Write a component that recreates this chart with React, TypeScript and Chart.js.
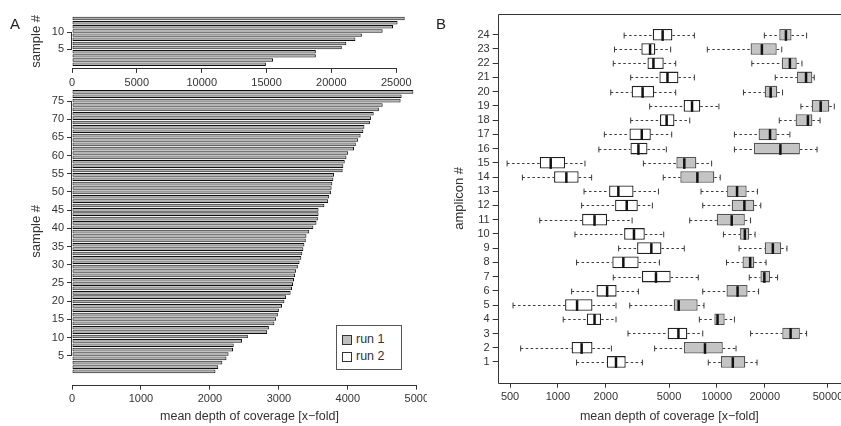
import React, { useEffect, useRef } from 'react';
import { Chart, registerables } from 'chart.js';

Chart.register(...registerables);

const FONT = '"Liberation Sans", Arial, Helvetica, sans-serif';
const INK = '#333333';

// Panel A (upper): run 1, mean depth per sample, sample 1 first
const run1Depth = [14950, 15500, 18800, 18800, 20800, 21150, 21850, 22350, 23950, 24750, 25100, 25650];
const run1SampleTicks = [5, 10];
const run1DepthTicks = [0, 5000, 10000, 15000, 20000, 25000];

// Panel A (lower): run 2, mean depth per sample, sample 1 first
const run2Depth = [
  2080, 2120, 2180, 2240, 2270, 2335, 2345, 2465, 2550,
  2830, 2855, 2935, 2960, 2985, 3000, 3045, 3080, 3105, 3170, 3190, 3205, 3220, 3235, 3250, 3275, 3300, 3325, 3340,
  3355, 3370, 3390, 3400, 3440, 3500, 3545, 3565, 3575, 3575, 3660, 3715, 3730, 3755, 3765, 3775, 3790, 3800,
  3925, 3935, 3955, 3980, 4005, 4090, 4115, 4150, 4185, 4225, 4240, 4320, 4335, 4375, 4450, 4505, 4765, 4780, 4950,
];
const run2SampleTicks = [5, 10, 15, 20, 25, 30, 35, 40, 45, 50, 55, 60, 65, 70, 75];
const run2DepthTicks = [0, 1000, 2000, 3000, 4000, 5000];

// Panel B: per-amplicon depth distribution (amplicon 1 first)
const amplicons = [1, 2, 3, 4, 5, 6, 7, 8, 9, 10, 11, 12, 13, 14, 15, 16, 17, 18, 19, 20, 21, 22, 23, 24];
const depthTicksB = [500, 1000, 2000, 5000, 10000, 20000, 50000];

const run1Low = [8830, 4060, 16300, 7760, 2830, 8150, 16000, 11500, 13800, 11000, 6750, 8150, 7950, 4600, 3450, 12900, 12900, 24700, 33800, 14700, 23300, 16600, 8710, 19900];
const run1Q1 = [10600, 6210, 25800, 9640, 5350, 11500, 18800, 14500, 20000, 14000, 9980, 12400, 11600, 5890, 5560, 17100, 18300, 31300, 39500, 20000, 31900, 25600, 16300, 24700];
const run1Med = [12600, 8420, 29100, 10100, 5750, 13500, 19900, 16200, 22500, 15000, 12400, 14900, 13400, 7540, 6240, 25100, 21600, 37400, 45000, 21800, 36400, 28800, 19200, 27200];
const run1Q3 = [15100, 10900, 33300, 11200, 7570, 15600, 21600, 17200, 25400, 16000, 15000, 17200, 15400, 9640, 7430, 33300, 23800, 39900, 51000, 24000, 39900, 31800, 23800, 29500];
const run1High = [17900, 13200, 36700, 12900, 8300, 18300, 24100, 20400, 27600, 17400, 16300, 18900, 18000, 10500, 9270, 42700, 28800, 44600, 54800, 25900, 41000, 34300, 25600, 36700];

const run2Low = [1310, 583, 2760, 1080, 522, 1220, 2230, 1310, 2410, 1280, 769, 1410, 1460, 598, 479, 1810, 1960, 2870, 3780, 2150, 2870, 2230, 2270, 2610];
const run2Q1 = [2030, 1220, 4900, 1520, 1110, 1750, 3380, 2200, 3150, 2610, 1420, 2290, 2100, 946, 769, 2860, 2820, 4390, 6180, 2910, 4350, 3660, 3350, 3950];
const run2Med = [2320, 1410, 5730, 1700, 1320, 2040, 4140, 2580, 3870, 3010, 1700, 2710, 2400, 1130, 901, 3210, 3370, 4830, 6980, 3410, 4890, 3990, 3800, 4560];
const run2Q3 = [2670, 1650, 6520, 1870, 1650, 2340, 5120, 3220, 4480, 3520, 2040, 3180, 2990, 1350, 1110, 3660, 3840, 5410, 7870, 4030, 5730, 4630, 4100, 5250];
const run2High = [3400, 2170, 8150, 2320, 2320, 3210, 7640, 4350, 6240, 4630, 2930, 3930, 4290, 1630, 1480, 4810, 5200, 6750, 10300, 5510, 7220, 5510, 5120, 7220];

// R barplot style bar positions (space = 0.2, width = 1)
const barPos = (i: number) => 0.7 + 1.2 * i;

const tickFont = { family: FONT, size: 11 };

// axis lines that run only from first to last tick, like R's axis()
const rAxisLines = {
  id: 'rAxisLines',
  afterDraw(chart: any) {
    const { ctx } = chart;
    ctx.save();
    ctx.strokeStyle = INK;
    ctx.lineWidth = 1;
    ['x', 'y'].forEach((id) => {
      const s = chart.scales[id];
      if (!s || !s.ticks.length) return;
      const a = s.getPixelForValue(s.ticks[0].value);
      const b = s.getPixelForValue(s.ticks[s.ticks.length - 1].value);
      ctx.beginPath();
      if (id === 'x') {
        ctx.moveTo(a, Math.round(s.top) + 0.5);
        ctx.lineTo(b, Math.round(s.top) + 0.5);
      } else {
        ctx.moveTo(Math.round(s.right) - 0.5, a);
        ctx.lineTo(Math.round(s.right) - 0.5, b);
      }
      ctx.stroke();
    });
    ctx.restore();
  },
};

const frame = {
  id: 'frame',
  afterDraw(chart: any) {
    const { ctx, chartArea: a } = chart;
    ctx.save();
    ctx.strokeStyle = INK;
    ctx.lineWidth = 1;
    ctx.beginPath();
    ctx.moveTo(a.right + 2, Math.round(a.top) + 0.5);
    ctx.lineTo(Math.round(a.left) + 0.5, Math.round(a.top) + 0.5);
    ctx.lineTo(Math.round(a.left) + 0.5, Math.round(a.bottom) + 0.5);
    ctx.lineTo(a.right + 2, Math.round(a.bottom) + 0.5);
    ctx.stroke();
    ctx.restore();
  },
};

// whiskers, staples and medians drawn on top of the floating-bar boxes
const whiskers = {
  id: 'whiskers',
  afterDatasetsDraw(chart: any) {
    const { ctx, scales: { x, y } } = chart;
    const boxH = Math.abs(y.getPixelForValue(0) - y.getPixelForValue(0.82));
    const runs = [
      { low: run1Low, q1: run1Q1, med: run1Med, q3: run1Q3, high: run1High },
      { low: run2Low, q1: run2Q1, med: run2Med, q3: run2Q3, high: run2High },
    ];
    ctx.save();
    runs.forEach((r) => {
      amplicons.forEach((a, i) => {
        const py = Math.round(y.getPixelForValue(a)) + 0.5;
        const lo = x.getPixelForValue(r.low[i]);
        const q1 = x.getPixelForValue(r.q1[i]);
        const q3 = x.getPixelForValue(r.q3[i]);
        const hi = x.getPixelForValue(r.high[i]);
        const md = x.getPixelForValue(r.med[i]);
        ctx.strokeStyle = '#3a3a3a';
        ctx.lineWidth = 1;
        ctx.setLineDash([2.5, 2.5]);
        ctx.beginPath();
        ctx.moveTo(lo, py);
        ctx.lineTo(q1, py);
        ctx.moveTo(q3, py);
        ctx.lineTo(hi, py);
        ctx.stroke();
        ctx.setLineDash([]);
        ctx.beginPath();
        ctx.moveTo(lo, py - boxH / 4);
        ctx.lineTo(lo, py + boxH / 4);
        ctx.moveTo(hi, py - boxH / 4);
        ctx.lineTo(hi, py + boxH / 4);
        ctx.stroke();
        ctx.strokeStyle = '#111111';
        ctx.lineWidth = 2.5;
        ctx.beginPath();
        ctx.moveTo(md, py - boxH / 2 + 0.5);
        ctx.lineTo(md, py + boxH / 2 - 0.5);
        ctx.stroke();
      });
    });
    ctx.restore();
  },
};

function fixSize(prop: 'width' | 'height', v: number) {
  return (s: any) => {
    s[prop] = v;
    s.paddingLeft = 0;
    s.paddingRight = 0;
    s.paddingTop = 0;
    s.paddingBottom = 0;
  };
}

function barplotConfig(
  values: number[], sampleTicks: number[], depthTicks: number[],
  yMin: number, yMax: number, xMax: number, padTop: number, xAxisH: number, withTitle: boolean,
): any {
  return {
    type: 'bar',
    data: {
      datasets: [{
        data: values.map((v, i) => ({ x: v, y: barPos(i) })),
        backgroundColor: '#b0b0b0',
        borderColor: '#111111',
        borderWidth: 1,
        borderSkipped: false,
        barPercentage: 1 / 1.2,
        categoryPercentage: 1,
      }],
    },
    options: {
      indexAxis: 'y',
      animation: false,
      responsive: true,
      maintainAspectRatio: false,
      layout: { padding: { top: padTop, right: 0, bottom: 0, left: 0 } },
      plugins: { legend: { display: false }, tooltip: { enabled: false } },
      scales: {
        x: {
          type: 'linear', min: 0, max: xMax,
          afterBuildTicks: (s: any) => { s.ticks = depthTicks.map((v) => ({ value: v })); },
          afterFit: fixSize('height', xAxisH),
          border: { display: false },
          grid: { drawOnChartArea: false, drawTicks: true, tickLength: 5, color: INK },
          ticks: { font: tickFont, color: INK, maxRotation: 0, autoSkip: false, padding: 3, callback: (v: any) => String(v) },
          title: withTitle
            ? { display: true, text: 'mean depth of coverage [x\u2212fold]', font: { family: FONT, size: 12.5 }, color: INK, padding: { top: 0, bottom: 2 } }
            : { display: false },
        },
        y: {
          type: 'linear', min: yMin, max: yMax, offset: false,
          afterBuildTicks: (s: any) => { s.ticks = sampleTicks.map((v) => ({ value: v })); },
          afterFit: fixSize('width', 72),
          border: { display: false },
          grid: { drawOnChartArea: false, drawTicks: true, tickLength: 5, color: INK, offset: false },
          ticks: { font: tickFont, color: INK, autoSkip: false, padding: 3, callback: (v: any) => String(v) },
          title: { display: true, text: 'sample #', font: { family: FONT, size: 13 }, color: INK, padding: { top: 29, bottom: 0 } },
        },
      },
    },
    plugins: [rAxisLines],
  };
}

function boxplotConfig(): any {
  return {
    type: 'bar',
    data: {
      datasets: [
        {
          label: 'run 1',
          data: amplicons.map((a, i) => ({ y: a, x: [run1Q1[i], run1Q3[i]] })),
          backgroundColor: '#c4c4c4',
          borderColor: '#555555',
          borderWidth: 1.3,
          borderSkipped: false,
          grouped: false,
          barPercentage: 0.82,
          categoryPercentage: 1,
        },
        {
          label: 'run 2',
          data: amplicons.map((a, i) => ({ y: a, x: [run2Q1[i], run2Q3[i]] })),
          backgroundColor: '#ffffff',
          borderColor: '#222222',
          borderWidth: 1.3,
          borderSkipped: false,
          grouped: false,
          barPercentage: 0.82,
          categoryPercentage: 1,
        },
      ],
    },
    options: {
      indexAxis: 'y',
      animation: false,
      responsive: true,
      maintainAspectRatio: false,
      layout: { padding: { top: 14, right: 0, bottom: 0, left: 0 } },
      plugins: { legend: { display: false }, tooltip: { enabled: false } },
      scales: {
        x: {
          type: 'logarithmic', min: 418, max: 60400,
          afterBuildTicks: (s: any) => { s.ticks = depthTicksB.map((v) => ({ value: v })); },
          afterFit: fixSize('height', 43.3),
          border: { display: false },
          grid: { drawOnChartArea: false, drawTicks: true, tickLength: 5, color: INK },
          ticks: { font: tickFont, color: INK, maxRotation: 0, autoSkip: false, padding: 3, callback: (v: any) => String(v) },
          title: { display: true, text: 'mean depth of coverage [x\u2212fold]', font: { family: FONT, size: 12.5 }, color: INK, padding: { top: 0, bottom: 2 } },
        },
        y: {
          type: 'linear', min: -0.46, max: 25.46, offset: false,
          afterBuildTicks: (s: any) => { s.ticks = amplicons.map((v) => ({ value: v })); },
          afterFit: fixSize('width', 67.7),
          border: { display: false },
          grid: { drawOnChartArea: false, drawTicks: true, tickLength: 5, color: INK, offset: false },
          ticks: { font: tickFont, color: INK, autoSkip: false, padding: 3, callback: (v: any) => String(v) },
          title: { display: true, text: 'amplicon #', font: { family: FONT, size: 13 }, color: INK, padding: { top: 22, bottom: 0 } },
        },
      },
    },
    plugins: [frame, whiskers],
  };
}

const ChartBox: React.FC<{ config: () => any; style: React.CSSProperties }> = ({ config, style }) => {
  const ref = useRef<HTMLCanvasElement>(null);
  useEffect(() => {
    if (!ref.current) return;
    const chart = new Chart(ref.current, config());
    return () => chart.destroy();
  }, [config]);
  return (
    <div style={{ position: 'absolute', ...style }}>
      <canvas ref={ref}></canvas>
    </div>
  );
};

const topConfig = () => barplotConfig(run1Depth, run1SampleTicks, run1DepthTicks, -0.368, 14.968, 26676, 14.8, 28.1, false);
const bottomConfig = () => barplotConfig(run2Depth, run2SampleTicks, run2DepthTicks, -2.92, 81.32, 5148, 0, 41.4, true);

const label: React.CSSProperties = { position: 'absolute', fontFamily: FONT, color: '#222', lineHeight: 1 };

const App: React.FC = () => (
  <div style={{ position: 'absolute', left: 0, top: 0, width: 841, height: 426, background: '#fff', overflow: 'hidden' }}>
    <ChartBox config={topConfig} style={{ left: 0, top: 0, width: 418, height: 96 }} />
    <ChartBox config={bottomConfig} style={{ left: 0, top: 78, width: 427, height: 348 }} />
    <ChartBox config={boxplotConfig} style={{ left: 430, top: 0, width: 411, height: 426 }} />
    <div style={{ ...label, left: 10, top: 16, fontSize: 15 }}>A</div>
    <div style={{ ...label, left: 436, top: 16, fontSize: 15 }}>B</div>
    <div style={{ position: 'absolute', left: 336, top: 325, width: 66, height: 45, border: '1px solid #555', boxSizing: 'border-box', background: '#fff', fontFamily: FONT, fontSize: 12.5, color: INK }}>
      <div style={{ position: 'absolute', left: 5, top: 9, width: 8, height: 8, border: '1px solid #333', background: '#bebebe' }} />
      <div style={{ position: 'absolute', left: 19, top: 6, lineHeight: '14px' }}>run 1</div>
      <div style={{ position: 'absolute', left: 5, top: 26, width: 8, height: 8, border: '1px solid #333', background: '#fff' }} />
      <div style={{ position: 'absolute', left: 19, top: 23, lineHeight: '14px' }}>run 2</div>
    </div>
  </div>
);

export default App;
